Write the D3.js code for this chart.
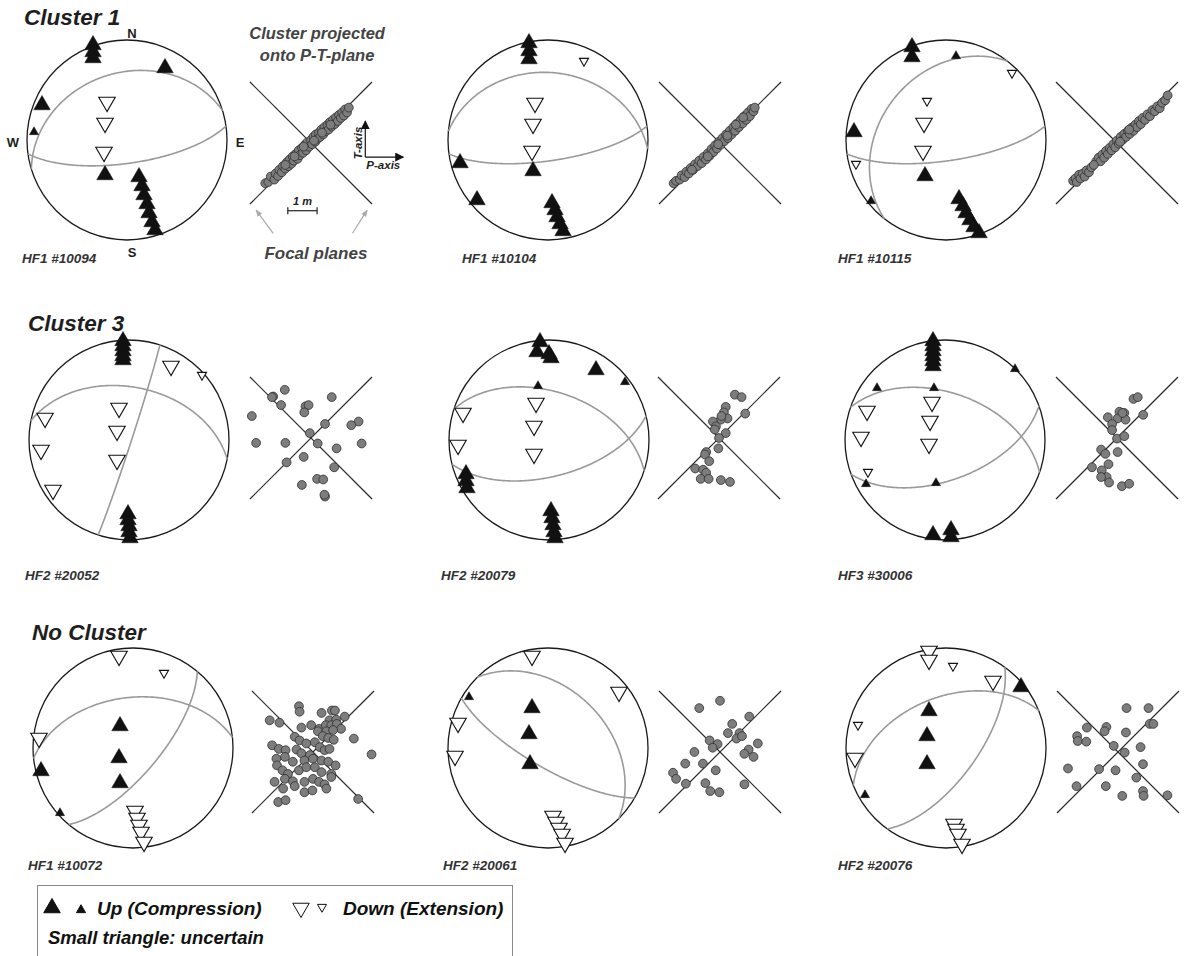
<!DOCTYPE html>
<html>
<head>
<meta charset="utf-8">
<script src="https://cdn.jsdelivr.net/npm/d3@7"></script>
<style>
body { margin: 0; background: #fff; }
text { font-family: "Liberation Sans", Arial, sans-serif; }
</style>
</head>
<body>
<svg id="fig" width="1186" height="956"></svg>
<script>
/*
----------------------------------------------------------
                   data
----------------------------------------------------------
*/
var rowTitles = ["Cluster 1", "Cluster 3", "No Cluster"];
var eventLabels = [
	["HF1 #10094", "HF1 #10104", "HF1 #10115"],
	["HF2 #20052", "HF2 #20079", "HF3 #30006"],
	["HF1 #10072", "HF2 #20061", "HF2 #20076"]
];
var compassLabels = ["N", "E", "S", "W"];
var legendUp = "Up (Compression)";
var legendDown = "Down (Extension)";
var legendNote = "Small triangle: uncertain";

// nodal planes: [strike, dip] (right hand rule)
var planes10094 = [[253, 33], [82, 71]];
var planes10104 = [[275, 33], [82, 73]];
var planes10115 = [[218, 34], [82, 73]];
var planes20052 = [[18, 88], [281, 46]];
var planes20079 = [[288, 50], [76, 60]];
var planes30006 = [[289, 51], [70, 57]];
var planes10072 = [[264, 48], [40, 69]];
var planes20061 = [[315, 40], [120, 74]];
var planes20076 = [[36, 65], [248, 48]];

// first motions: [east, north, kind]  U/u = up big/small, D/d = down big/small
var pol10094 = [
	[-0.34, 0.95, "U"], [-0.34, 0.88, "U"], [-0.34, 0.82, "U"],
	[0.38, 0.72, "U"], [-0.85, 0.35, "U"], [-0.93, 0.08, "u"],
	[-0.2, 0.38, "D"], [-0.22, 0.17, "D"], [-0.23, -0.12, "D"],
	[-0.22, -0.35, "U"],
	[0.12, -0.37, "U"], [0.15, -0.46, "U"], [0.17, -0.55, "U"], [0.2, -0.64, "U"],
	[0.22, -0.73, "U"], [0.25, -0.82, "U"], [0.28, -0.9, "U"]
];
var pol10104 = [
	[-0.19, 0.97, "U"], [-0.19, 0.89, "U"], [-0.19, 0.81, "U"],
	[0.36, 0.79, "d"],
	[-0.13, 0.37, "D"], [-0.15, 0.16, "D"], [-0.16, -0.11, "D"],
	[-0.15, -0.31, "U"], [-0.88, -0.23, "U"], [-0.71, -0.6, "U"],
	[0.04, -0.63, "U"], [0.07, -0.7, "U"], [0.09, -0.77, "U"], [0.12, -0.84, "U"], [0.15, -0.91, "U"]
];
var pol10115 = [
	[-0.34, 0.93, "U"], [-0.34, 0.83, "U"],
	[0.1, 0.84, "u"], [0.66, 0.67, "d"], [-0.19, 0.39, "d"],
	[-0.22, 0.17, "D"], [-0.23, -0.11, "D"],
	[-0.92, 0.08, "U"], [-0.9, -0.24, "d"], [-0.21, -0.36, "U"], [-0.75, -0.61, "u"],
	[0.13, -0.59, "U"], [0.17, -0.66, "U"], [0.2, -0.73, "U"], [0.24, -0.8, "U"],
	[0.28, -0.87, "U"], [0.33, -0.93, "U"]
];
var pol20052 = [
	[-0.06, 0.99, "U"], [-0.06, 0.94, "U"], [-0.06, 0.89, "U"], [-0.06, 0.84, "U"], [-0.06, 0.8, "U"],
	[0.42, 0.74, "D"], [0.73, 0.65, "d"],
	[-0.84, 0.22, "D"], [-0.88, -0.1, "D"], [-0.76, -0.5, "D"],
	[-0.1, 0.32, "D"], [-0.12, 0.09, "D"], [-0.12, -0.2, "D"],
	[-0.01, -0.74, "U"], [-0.01, -0.8, "U"], [0, -0.86, "U"], [0, -0.92, "U"], [0.01, -0.98, "U"]
];
var pol20079 = [
	[-0.09, 0.98, "U"], [-0.12, 0.88, "U"], [0.0, 0.86, "U"], [0.02, 0.82, "U"],
	[0.47, 0.7, "U"], [0.76, 0.58, "u"], [-0.11, 0.54, "u"],
	[-0.13, 0.37, "D"], [-0.15, 0.14, "D"], [-0.15, -0.14, "D"],
	[-0.86, 0.27, "D"], [-0.91, -0.05, "D"],
	[-0.83, -0.34, "U"], [-0.83, -0.41, "U"], [-0.82, -0.48, "U"],
	[0.02, -0.71, "U"], [0.03, -0.78, "U"], [0.04, -0.85, "U"], [0.05, -0.92, "U"], [0.06, -0.98, "U"]
];
var pol30006 = [
	[-0.12, 0.99, "U"], [-0.12, 0.94, "U"], [-0.12, 0.89, "U"], [-0.12, 0.84, "U"], [-0.12, 0.79, "U"], [-0.12, 0.74, "U"],
	[0.7, 0.71, "u"], [-0.68, 0.52, "u"], [-0.11, 0.52, "u"],
	[-0.13, 0.38, "D"], [-0.15, 0.19, "D"], [-0.16, -0.04, "D"],
	[-0.78, 0.29, "D"], [-0.84, 0.03, "D"], [-0.77, -0.32, "d"],
	[-0.79, -0.44, "u"], [-0.09, -0.43, "u"],
	[-0.12, -0.95, "U"], [0.06, -0.9, "U"], [0.06, -0.97, "U"]
];
var pol10072 = [
	[-0.14, 0.92, "D"], [0.31, 0.75, "d"], [-0.94, 0.1, "D"],
	[-0.92, -0.23, "U"], [-0.73, -0.65, "u"],
	[-0.13, 0.22, "U"], [-0.14, -0.1, "U"], [-0.13, -0.35, "U"],
	[0.02, -0.63, "D"], [0.04, -0.7, "D"], [0.06, -0.77, "D"], [0.08, -0.84, "D"], [0.11, -0.94, "D"]
];
var pol20061 = [
	[-0.16, 0.92, "D"], [0.71, 0.56, "D"], [-0.79, 0.51, "u"],
	[-0.9, 0.25, "D"], [-0.93, -0.08, "D"],
	[-0.16, 0.4, "U"], [-0.19, 0.14, "U"], [-0.18, -0.16, "U"],
	[0.05, -0.68, "D"], [0.08, -0.74, "D"], [0.11, -0.8, "D"], [0.14, -0.86, "D"], [0.17, -0.95, "D"]
];
var pol20076 = [
	[-0.17, 0.97, "D"], [-0.17, 0.88, "D"], [0.07, 0.82, "d"],
	[0.47, 0.67, "D"], [0.75, 0.61, "U"],
	[-0.88, 0.23, "d"], [-0.91, -0.1, "D"], [-0.81, -0.47, "u"],
	[-0.17, 0.37, "U"], [-0.19, 0.12, "U"], [-0.19, -0.16, "U"],
	[0.08, -0.76, "D"], [0.1, -0.81, "D"], [0.12, -0.86, "D"], [0.16, -0.96, "D"]
];

// hypocentres projected onto the P-T-plane: [P, T], focal planes are the diagonals
var pts10094 = [
	[-0.75, -0.66], [-0.7, -0.64], [-0.66, -0.55], [-0.6, -0.6], [-0.58, -0.5], [-0.54, -0.54],
	[-0.52, -0.44], [-0.48, -0.48], [-0.46, -0.38], [-0.42, -0.42], [-0.4, -0.32], [-0.37, -0.38],
	[-0.35, -0.27], [-0.32, -0.34], [-0.3, -0.22], [-0.28, -0.29], [-0.25, -0.18], [-0.22, -0.26],
	[-0.2, -0.12], [-0.18, -0.2], [-0.15, -0.08], [-0.13, -0.16], [-0.1, -0.03], [-0.08, -0.12],
	[-0.06, 0.01], [-0.03, -0.06], [0.0, 0.05], [0.02, -0.02], [0.04, 0.1], [0.07, 0.02],
	[0.08, 0.14], [0.11, 0.07], [0.13, 0.17], [0.15, 0.1], [0.17, 0.22], [0.2, 0.14],
	[0.22, 0.26], [0.24, 0.19], [0.27, 0.3], [0.29, 0.22], [0.31, 0.34], [0.34, 0.27],
	[0.36, 0.38], [0.39, 0.31], [0.41, 0.42], [0.44, 0.36], [0.46, 0.46], [0.49, 0.41],
	[0.51, 0.5], [0.54, 0.45], [0.56, 0.55], [0.59, 0.5], [0.62, 0.58], [-0.12, -0.06],
	[0.05, 0.04], [0.18, 0.17], [0.32, 0.3], [-0.27, -0.22], [-0.42, -0.36]
];
var pts10104 = [
	[-0.76, -0.66], [-0.72, -0.62], [-0.66, -0.6], [-0.63, -0.53], [-0.58, -0.56], [-0.55, -0.47],
	[-0.51, -0.5], [-0.48, -0.41], [-0.44, -0.44], [-0.41, -0.35], [-0.37, -0.38], [-0.34, -0.29],
	[-0.3, -0.33], [-0.27, -0.23], [-0.23, -0.27], [-0.2, -0.17], [-0.17, -0.21], [-0.14, -0.1],
	[-0.11, -0.15], [-0.08, -0.04], [-0.05, -0.09], [-0.02, 0.02], [0.01, -0.03], [0.04, 0.08],
	[0.07, 0.03], [0.1, 0.14], [0.13, 0.08], [0.16, 0.2], [0.19, 0.14], [0.22, 0.26],
	[0.25, 0.2], [0.28, 0.32], [0.31, 0.26], [0.34, 0.38], [0.37, 0.32], [0.4, 0.44],
	[0.43, 0.38], [0.46, 0.5], [0.49, 0.44], [0.52, 0.56], [0.55, 0.52], [0.57, 0.58],
	[0.26, 0.3], [0.12, 0.12], [-0.03, -0.02], [-0.2, -0.22], [0.38, 0.42], [-0.46, -0.44]
];
var pts10115 = [
	[-0.72, -0.62], [-0.68, -0.58], [-0.66, -0.64], [-0.62, -0.52], [-0.6, -0.58], [-0.56, -0.5],
	[-0.53, -0.55], [-0.5, -0.45], [-0.46, -0.48], [-0.42, -0.4], [-0.34, -0.3], [-0.3, -0.24],
	[-0.27, -0.3], [-0.24, -0.19], [-0.21, -0.24], [-0.18, -0.13], [-0.15, -0.18], [-0.12, -0.08],
	[-0.09, -0.12], [-0.06, -0.02], [-0.03, -0.07], [0.0, 0.04], [0.03, -0.01], [0.06, 0.1],
	[0.09, 0.05], [0.12, 0.15], [0.15, 0.1], [0.18, 0.2], [0.21, 0.15], [0.24, 0.25],
	[0.27, 0.2], [0.3, 0.3], [0.33, 0.26], [0.36, 0.36], [0.39, 0.31], [0.42, 0.41],
	[0.46, 0.38], [0.5, 0.47], [0.54, 0.44], [0.58, 0.54], [0.62, 0.52], [0.66, 0.6],
	[0.7, 0.57], [0.74, 0.66], [0.79, 0.7], [0.83, 0.78], [0.2, 0.22], [0.05, 0.02],
	[-0.38, -0.36]
];
var pts20052 = [
	[-0.43, 0.79], [-0.62, 0.68], [-0.64, 0.67], [-0.49, 0.54], [-0.97, 0.36], [-0.09, 0.52],
	[-0.04, 0.54], [-0.11, 0.42], [0.34, 0.67], [0.23, 0.23], [0.78, 0.27], [0.66, 0.21],
	[-0.02, 0.08], [-0.9, -0.08], [-0.42, -0.08], [0.11, -0.09], [0.42, -0.17], [0.83, -0.09],
	[-0.4, -0.4], [-0.12, -0.31], [0.38, -0.48], [-0.15, -0.77], [0.1, -0.67], [0.2, -0.68],
	[0.23, -0.96], [0.22, -0.93]
];
var pts20079 = [
	[0.26, 0.71], [0.37, 0.67], [0.11, 0.51], [0.08, 0.42], [0.14, 0.32], [0.03, 0.3],
	[-0.1, 0.27], [-0.05, 0.19], [-0.07, 0.14], [0.11, 0.08], [0.43, 0.4], [0.0, 0.0],
	[-0.01, -0.17], [-0.21, -0.23], [-0.23, -0.27], [-0.16, -0.38], [-0.39, -0.5], [-0.26, -0.52],
	[-0.21, -0.57], [-0.3, -0.67], [-0.17, -0.67], [0.03, -0.69], [0.18, -0.72], [0.04, 0.36]
];
var pts30006 = [
	[0.27, 0.64], [0.34, 0.67], [-0.15, 0.34], [0.04, 0.43], [0.12, 0.41], [0.01, 0.32],
	[0.14, 0.3], [-0.08, 0.23], [-0.08, 0.13], [0.43, 0.38], [0.0, -0.01], [0.12, 0.03],
	[-0.26, -0.19], [-0.19, -0.26], [0.01, -0.23], [-0.41, -0.48], [-0.14, -0.43], [-0.25, -0.53],
	[-0.17, -0.64], [-0.26, -0.64], [-0.13, -0.73], [0.08, -0.79], [0.2, -0.75], [0.09, 0.41]
];
var pts10072 = [
	[-0.23, 0.75], [-0.22, 0.66], [0.14, 0.64], [0.31, 0.68], [0.36, 0.68], [-0.71, 0.52],
	[-0.55, 0.48], [0.27, 0.52], [0.38, 0.53], [0.52, 0.58], [-0.19, 0.4], [-0.03, 0.44],
	[0.1, 0.38], [0.21, 0.44], [0.3, 0.44], [0.39, 0.46], [0.46, 0.38], [0.08, 0.34],
	[0.22, 0.34], [0.33, 0.36], [-0.3, 0.25], [-0.22, 0.19], [-0.11, 0.14], [0.03, 0.16],
	[0.16, 0.26], [0.25, 0.23], [0.34, 0.2], [0.67, 0.22], [-0.67, 0.11], [-0.56, 0.05],
	[-0.45, 0.03], [-0.27, 0.04], [-0.19, -0.02], [-0.05, -0.05], [0.11, 0.08], [0.19, 0.03],
	[0.27, 0.05], [0.96, -0.04], [-0.6, -0.11], [-0.46, -0.08], [-0.33, -0.16], [-0.14, -0.14],
	[0.0, -0.11], [0.14, -0.14], [0.25, -0.16], [0.37, -0.22], [-0.59, -0.22], [-0.5, -0.3],
	[-0.41, -0.36], [-0.23, -0.3], [-0.11, -0.25], [0.03, -0.25], [0.14, -0.33], [0.3, -0.36],
	[-0.63, -0.49], [-0.46, -0.44], [-0.33, -0.48], [-0.14, -0.49], [0.0, -0.44], [0.1, -0.49],
	[0.19, -0.53], [0.3, -0.41], [-0.49, -0.6], [-0.3, -0.56], [-0.14, -0.66], [-0.01, -0.63],
	[0.22, -0.6], [-0.57, -0.82], [-0.45, -0.79], [0.74, -0.77]
];
var pts20061 = [
	[0.0, 0.84], [-0.34, 0.72], [0.48, 0.58], [0.2, 0.46], [0.13, 0.31], [0.32, 0.31],
	[0.27, 0.22], [0.36, 0.26], [-0.17, 0.19], [-0.04, 0.13], [-0.12, 0.07], [-0.42, 0.0],
	[0.62, 0.14], [0.47, 0.04], [0.4, -0.03], [0.55, -0.08], [-0.57, -0.19], [-0.28, -0.19],
	[-0.07, -0.3], [-0.77, -0.34], [-0.72, -0.44], [-0.56, -0.52], [-0.24, -0.51], [-0.16, -0.64],
	[-0.01, -0.66], [0.4, -0.53]
];
var pts20076 = [
	[0.14, 0.72], [0.5, 0.72], [-0.51, 0.4], [-0.19, 0.41], [-0.22, 0.34], [0.13, 0.32],
	[0.52, 0.46], [0.58, 0.46], [-0.67, 0.26], [-0.66, 0.18], [-0.52, 0.17], [-0.07, 0.1],
	[0.37, 0.08], [0.11, -0.01], [0.41, -0.2], [-0.82, -0.27], [-0.31, -0.28], [-0.04, -0.3],
	[0.3, -0.42], [-0.68, -0.56], [-0.2, -0.56], [0.07, -0.72], [0.41, -0.64], [0.42, -0.72],
	[0.81, -0.71]
];

/*
----------------------------------------------------------
                   layout
----------------------------------------------------------
*/
var R = 100;      // stereonet radius
var S = 61;       // half size of the P-T-plane cross
var netX = [[127, 548, 946], [129, 549, 945], [133, 548, 946]];
var netY = [140, 440, 748];
var crossX = [[311, 720, 1117], [311, 719, 1117], [313, 720, 1118]];
var crossY = [143, 438, 752];
var labelX = [[22, 462, 838], [25, 441, 838], [28, 443, 838]];
var labelY = [263, 580, 870];
var titleX = [24, 28, 32];
var titleY = [25, 331, 640];

var panels = [
	[{planes: planes10094, pol: pol10094, pts: pts10094},
	 {planes: planes10104, pol: pol10104, pts: pts10104},
	 {planes: planes10115, pol: pol10115, pts: pts10115}],
	[{planes: planes20052, pol: pol20052, pts: pts20052},
	 {planes: planes20079, pol: pol20079, pts: pts20079},
	 {planes: planes30006, pol: pol30006, pts: pts30006}],
	[{planes: planes10072, pol: pol10072, pts: pts10072},
	 {planes: planes20061, pol: pol20061, pts: pts20061},
	 {planes: planes20076, pol: pol20076, pts: pts20076}]
];

var svg = d3.select("#fig");

var defs = svg.append("defs");
defs.append("marker").attr("id", "headBlack")
	.attr("viewBox", "0 0 10 10").attr("refX", 9).attr("refY", 5)
	.attr("markerWidth", 9).attr("markerHeight", 9).attr("markerUnits", "userSpaceOnUse")
	.attr("orient", "auto")
	.append("path").attr("d", "M0,0 L10,5 L0,10 z").attr("fill", "#111");
defs.append("marker").attr("id", "headGrey")
	.attr("viewBox", "0 0 10 10").attr("refX", 9).attr("refY", 5)
	.attr("markerWidth", 7).attr("markerHeight", 7).attr("markerUnits", "userSpaceOnUse")
	.attr("orient", "auto")
	.append("path").attr("d", "M0,1 L10,5 L0,9 z").attr("fill", "#aaa");

/*
----------------------------------------------------------
                   stereonet
----------------------------------------------------------
*/
// lower hemisphere equal area projection of a plane
function greatCircle(strike, dip) {
	var s = strike * Math.PI / 180;
	var d = dip * Math.PI / 180;
	var sv = [Math.sin(s), Math.cos(s), 0];
	var dv = [Math.sin(s + Math.PI / 2) * Math.cos(d), Math.cos(s + Math.PI / 2) * Math.cos(d), Math.sin(d)];
	return d3.range(0, 180.5, 1).map(function(a) {
		a = a * Math.PI / 180;
		var e = Math.cos(a) * sv[0] + Math.sin(a) * dv[0];
		var n = Math.cos(a) * sv[1] + Math.sin(a) * dv[1];
		var z = Math.cos(a) * sv[2] + Math.sin(a) * dv[2];
		var p = Math.asin(Math.min(1, z));
		var rho = Math.SQRT2 * Math.sin((Math.PI / 2 - p) / 2);
		var h = Math.hypot(e, n);
		return h < 1e-9 ? [0, 0] : [rho * e / h, rho * n / h];
	});
}

var bigTri = d3.symbol().type(d3.symbolTriangle).size(118);
var smallTri = d3.symbol().type(d3.symbolTriangle).size(36);

function drawNet(cx, cy, data) {
	var g = svg.append("g").attr("class", "net");
	var xs = d3.scaleLinear().domain([-1, 1]).range([cx - R, cx + R]);
	var ys = d3.scaleLinear().domain([-1, 1]).range([cy + R, cy - R]);

	g.append("circle")
		.attr("cx", xs(0)).attr("cy", ys(0)).attr("r", R)
		.attr("fill", "none").attr("stroke", "#1a1a1a").attr("stroke-width", 1.3);

	var line = d3.line().x(function(d) { return xs(d[0]); }).y(function(d) { return ys(d[1]); });
	g.selectAll(".plane").data(data.planes).enter()
		.append("path")
			.attr("class", "plane")
			.attr("d", function(d) { return line(greatCircle(d[0], d[1])); })
			.attr("fill", "none").attr("stroke", "#9a9a9a").attr("stroke-width", 1.6);

	g.selectAll(".pol").data(data.pol).enter()
		.append("path")
			.attr("class", "pol")
			.attr("d", function(d) { return (d[2] == "U" || d[2] == "D") ? bigTri() : smallTri(); })
			.attr("transform", function(d) {
				var down = d[2] == "D" || d[2] == "d";
				return "translate(" + xs(d[0]) + "," + ys(d[1]) + ")" + (down ? " rotate(180)" : "");
			})
			.attr("fill", function(d) { return (d[2] == "U" || d[2] == "u") ? "#111" : "#fff"; })
			.attr("stroke", "#111")
			.attr("stroke-width", function(d) { return (d[2] == "U" || d[2] == "u") ? 0.5 : 1.1; });
	return {xs: xs, ys: ys};
}

/*
----------------------------------------------------------
                   P-T-plane cross
----------------------------------------------------------
*/
function drawCross(cx, cy, pts) {
	var g = svg.append("g").attr("class", "cross");
	var xs = d3.scaleLinear().domain([-1, 1]).range([cx - S, cx + S]);
	var ys = d3.scaleLinear().domain([-1, 1]).range([cy + S, cy - S]);
	var diagonals = [[[-1, 1], [1, -1]], [[-1, -1], [1, 1]]];
	g.selectAll(".fp").data(diagonals).enter()
		.append("line")
			.attr("class", "fp")
			.attr("x1", function(d) { return xs(d[0][0]); })
			.attr("y1", function(d) { return ys(d[0][1]); })
			.attr("x2", function(d) { return xs(d[1][0]); })
			.attr("y2", function(d) { return ys(d[1][1]); })
			.attr("stroke", "#2a2a2a").attr("stroke-width", 1.2);
	g.selectAll(".hypo").data(pts).enter()
		.append("circle")
			.attr("class", "hypo")
			.attr("cx", function(d) { return xs(d[0]); })
			.attr("cy", function(d) { return ys(d[1]); })
			.attr("r", 4.4)
			.attr("fill", "#7d7d7d").attr("stroke", "#2e2e2e").attr("stroke-width", 0.8);
	return {xs: xs, ys: ys};
}

/*
----------------------------------------------------------
                   the figure
----------------------------------------------------------
*/
rowTitles.forEach(function(t, r) {
	svg.append("text").attr("x", titleX[r]).attr("y", titleY[r])
		.attr("font-size", 22.5).attr("font-weight", "bold").attr("font-style", "italic")
		.attr("fill", "#1e1e1e").text(t);
});

var firstNet, firstCross;
panels.forEach(function(row, r) {
	row.forEach(function(p, c) {
		var net = drawNet(netX[r][c], netY[r], p);
		var cross = drawCross(crossX[r][c], crossY[r], p.pts);
		if (r == 0 && c == 0) { firstNet = net; firstCross = cross; }
		svg.append("text").attr("x", labelX[r][c]).attr("y", labelY[r])
			.attr("font-size", 13.5).attr("font-weight", "bold").attr("font-style", "italic")
			.attr("fill", "#333").text(eventLabels[r][c]);
	});
});

// compass letters on the first stereonet
var compassPos = [[0.05, 1.07], [1.13, -0.02], [0.05, -1.12], [-1.14, -0.02]];
svg.selectAll(".compass").data(compassLabels).enter()
	.append("text")
		.attr("class", "compass")
		.attr("x", function(d, i) { return firstNet.xs(compassPos[i][0]); })
		.attr("y", function(d, i) { return firstNet.ys(compassPos[i][1]); })
		.attr("dy", "0.35em")
		.attr("text-anchor", "middle")
		.attr("font-size", 13).attr("font-weight", "bold").attr("fill", "#1e1e1e")
		.text(function(d) { return d; });

// explanation around the first cross
var fx = firstCross.xs, fy = firstCross.ys;
var note = svg.append("g").attr("fill", "#444").attr("font-weight", "bold").attr("font-style", "italic");
note.append("text").attr("x", fx(0.1)).attr("y", 39).attr("text-anchor", "middle")
	.attr("font-size", 16.5).text("Cluster projected");
note.append("text").attr("x", fx(0.1)).attr("y", 61).attr("text-anchor", "middle")
	.attr("font-size", 16.5).text("onto P-T-plane");
note.append("text").attr("x", fx(0.08)).attr("y", 259).attr("text-anchor", "middle")
	.attr("font-size", 17).text("Focal planes");

// P and T axis arrows
var ax = fx(0.89), ay = fy(-0.23);
svg.append("line").attr("x1", ax).attr("y1", ay).attr("x2", ax).attr("y2", ay - 36)
	.attr("stroke", "#111").attr("stroke-width", 1.2).attr("marker-end", "url(#headBlack)");
svg.append("line").attr("x1", ax).attr("y1", ay).attr("x2", ax + 38).attr("y2", ay)
	.attr("stroke", "#111").attr("stroke-width", 1.2).attr("marker-end", "url(#headBlack)");
note.append("text").attr("transform", "translate(" + (ax - 3) + "," + (ay - 14) + ") rotate(-90)")
	.attr("text-anchor", "middle").attr("font-size", 11.5).attr("fill", "#222").text("T-axis");
note.append("text").attr("x", ax + 18).attr("y", ay + 12)
	.attr("text-anchor", "middle").attr("font-size", 11.5).attr("fill", "#222").text("P-axis");

// scale bar
var sbY = fy(-1.11), sb0 = fx(-0.38), sb1 = fx(0.1);
var bar = svg.append("g").attr("stroke", "#222").attr("stroke-width", 1.2);
bar.append("line").attr("x1", sb0).attr("y1", sbY).attr("x2", sb1).attr("y2", sbY);
bar.append("line").attr("x1", sb0).attr("y1", sbY - 3.5).attr("x2", sb0).attr("y2", sbY + 3.5);
bar.append("line").attr("x1", sb1).attr("y1", sbY - 3.5).attr("x2", sb1).attr("y2", sbY + 3.5);
note.append("text").attr("x", (sb0 + sb1) / 2).attr("y", sbY - 6).attr("text-anchor", "middle")
	.attr("font-size", 11).attr("fill", "#222").text("1 m");

// grey arrows to the focal planes
var fpArrows = [[[-0.62, -1.48], [-0.9, -1.1]], [[0.68, -1.48], [0.92, -1.1]]];
svg.selectAll(".fpArrow").data(fpArrows).enter()
	.append("line")
		.attr("class", "fpArrow")
		.attr("x1", function(d) { return fx(d[0][0]); })
		.attr("y1", function(d) { return fy(d[0][1]); })
		.attr("x2", function(d) { return fx(d[1][0]); })
		.attr("y2", function(d) { return fy(d[1][1]); })
		.attr("stroke", "#aaa").attr("stroke-width", 1.2).attr("marker-end", "url(#headGrey)");

/*
----------------------------------------------------------
                   legend
----------------------------------------------------------
*/
var lg = svg.append("g");
lg.append("rect").attr("x", 37.5).attr("y", 885.5).attr("width", 475).attr("height", 90)
	.attr("fill", "none").attr("stroke", "#888").attr("stroke-width", 1);
var legendMarks = [[52, 908, "U"], [81, 910, "u"], [301, 908, "D"], [322, 907, "d"]];
lg.selectAll(".lgMark").data(legendMarks).enter()
	.append("path")
		.attr("class", "lgMark")
		.attr("d", function(d) { return (d[2] == "U" || d[2] == "D") ? bigTri() : smallTri(); })
		.attr("transform", function(d) {
			return "translate(" + d[0] + "," + d[1] + ")" + ((d[2] == "D" || d[2] == "d") ? " rotate(180)" : "");
		})
		.attr("fill", function(d) { return (d[2] == "U" || d[2] == "u") ? "#111" : "#fff"; })
		.attr("stroke", "#111").attr("stroke-width", 1);
var lt = lg.append("g").attr("font-weight", "bold").attr("font-style", "italic").attr("fill", "#111");
lt.append("text").attr("x", 97).attr("y", 915).attr("font-size", 19).text(legendUp);
lt.append("text").attr("x", 343).attr("y", 915).attr("font-size", 19).text(legendDown);
lt.append("text").attr("x", 48).attr("y", 944).attr("font-size", 18.5).text(legendNote);
</script>
</body>
</html>
